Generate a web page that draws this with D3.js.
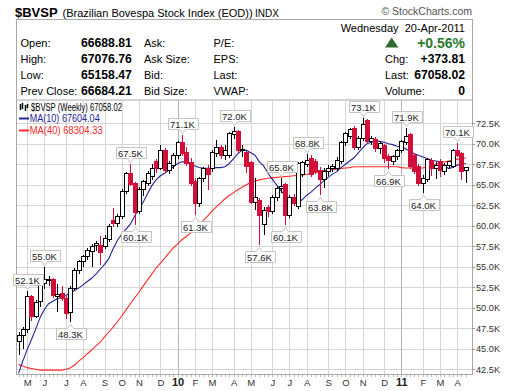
<!DOCTYPE html>
<html><head><meta charset="utf-8">
<script src="https://cdn.jsdelivr.net/npm/d3@7"></script>
<style>
body{margin:0;background:#fff}
svg{display:block}
text{font-family:"Liberation Sans",Arial,sans-serif;white-space:pre}
</style>
</head><body>
<svg id="c" width="520" height="391"></svg>
<script>
// ---- data (values in thousands) ----
const startDate = new Date(2009, 3, 20); // week of 20-Apr-2009
const opens  = [45.9,46.6,47.3,51.4,49.0,50.8,53.0,53.4,53.5,51.4,51.7,51.1,49.4,52.4,54.6,55.6,56.3,56.9,57.6,57.6,57.5,58.3,60.7,60.3,61.1,64.2,66.4,65.2,61.7,64.4,65.2,66.0,67.9,67.0,69.2,66.8,67.4,68.6,70.1,69.0,67.7,65.4,62.7,65.8,67.0,67.0,68.8,69.5,68.6,68.6,71.1,71.5,69.3,68.9,67.7,62.9,63.1,60.2,62.2,61.8,63.5,64.5,65.0,61.3,63.5,62.3,66.2,67.5,68.2,67.8,66.8,65.6,66.6,67.0,67.0,67.8,70.1,70.9,71.9,69.5,70.7,72.9,70.3,70.5,69.4,69.8,68.4,67.8,68.4,69.2,70.1,71.1,68.6,67.2,65.2,65.7,68.0,67.0,67.9,66.6,67.3,67.2,69.2,68.8,66.69];
const highs  = [47.0,47.6,52.1,51.6,51.0,53.2,55.0,53.9,53.6,52.9,52.6,51.4,52.6,54.8,55.8,56.5,57.3,57.8,58.2,58.7,58.9,60.2,62.2,61.4,64.5,66.6,67.5,65.4,64.7,65.6,66.7,67.5,68.2,69.8,69.5,67.9,68.9,70.3,71.1,69.6,68.3,65.8,66.0,67.2,67.4,69.2,70.5,69.9,69.8,71.4,72.0,71.7,69.9,69.1,67.9,65.8,63.4,62.3,62.5,63.8,64.8,65.8,65.2,63.8,63.9,67.8,67.9,68.8,68.6,68.1,67.2,67.0,67.4,67.5,68.4,70.4,71.5,71.9,72.2,70.9,73.1,73.0,71.0,70.8,70.3,70.0,68.8,68.6,69.4,70.5,71.9,71.3,68.9,67.5,66.2,68.3,68.3,67.8,68.2,67.7,67.9,69.4,70.1,69.0,67.08];
const lows   = [44.2,45.0,46.9,48.4,48.7,50.1,52.3,52.6,51.2,49.5,50.8,48.6,48.3,52.0,54.1,55.0,55.8,55.0,56.9,55.2,57.2,58.0,59.9,59.8,60.8,63.9,64.8,60.1,61.4,63.6,64.8,65.6,66.5,66.8,66.4,66.3,66.9,68.2,68.5,67.3,64.9,61.3,62.3,65.4,64.4,66.6,68.4,68.2,68.0,68.3,70.6,68.9,68.4,66.4,62.6,61.9,57.6,58.9,61.1,61.5,63.0,64.0,60.1,61.0,62.4,62.0,65.9,67.2,65.9,66.3,63.8,64.6,66.1,66.6,66.7,67.5,69.7,70.6,69.2,69.3,70.4,70.0,69.8,69.0,68.8,67.6,66.9,67.4,68.0,68.9,69.8,66.9,66.3,64.9,64.0,65.4,66.1,65.7,65.9,66.2,66.9,67.0,68.4,65.6,65.16];
const closes = [46.6,47.3,51.4,49.0,50.6,52.9,53.4,53.5,51.5,51.6,51.1,49.3,52.4,54.6,55.6,56.3,57.0,57.5,57.9,56.7,58.5,59.9,60.3,61.1,64.2,66.4,65.0,61.6,64.4,65.4,66.4,67.0,67.0,69.2,66.8,67.6,68.6,70.1,68.8,67.6,65.2,62.7,65.8,67.0,66.2,69.0,69.5,68.6,69.2,71.3,71.5,69.2,69.35,67.2,62.9,63.4,61.3,61.9,61.7,63.5,64.6,64.8,61.3,63.5,62.7,67.6,67.7,68.0,66.2,66.6,65.6,66.6,67.0,67.2,68.0,70.1,71.3,71.7,69.5,70.7,72.3,70.3,70.7,69.4,70.0,68.2,68.0,68.4,69.2,70.3,70.9,67.2,66.6,65.2,65.8,68.1,67.0,67.4,66.8,67.4,67.8,69.2,68.6,66.6,67.06];
const ma10 = [42.0,43.5,44.9,46.1,47.4,48.8,49.8,50.5,50.8,51.1,51.3,51.5,51.8,52.1,52.4,52.8,53.2,53.6,54.1,54.7,55.3,56.0,57.2,58.2,59.0,59.6,60.2,61.2,62.0,62.9,63.9,64.9,65.6,66.1,66.4,66.8,67.2,67.6,67.8,67.8,67.5,67.3,67.1,67.0,67.0,67.05,67.1,67.1,67.2,67.6,68.2,68.8,69.2,69.2,68.9,68.6,67.8,67.3,66.4,65.7,65.0,64.3,63.7,63.1,62.9,62.8,63.2,63.7,64.1,64.6,65.0,65.5,65.9,66.3,66.6,67.1,67.5,67.9,68.3,68.9,69.5,70.0,70.2,70.3,70.3,70.2,70.0,69.9,69.7,69.6,69.4,69.1,68.8,68.6,68.4,68.2,68.0,67.9,67.8,67.3,67.0,67.1,67.4,67.5,67.6];
const ma40 = [43.1,42.9,42.7,42.6,42.5,42.4,42.4,42.4,42.4,42.4,42.4,42.5,42.65,43.0,43.5,43.9,44.4,44.85,45.35,45.8,46.45,47.05,47.65,48.3,49.0,49.75,50.5,51.2,51.9,52.65,53.4,54.1,54.85,55.45,56.05,56.7,57.3,57.8,58.3,58.7,59.1,59.6,60.1,60.65,61.2,61.8,62.3,62.8,63.3,63.7,64.05,64.4,64.7,65.0,65.3,65.45,65.6,65.7,65.8,65.85,65.9,65.95,66.0,66.05,66.1,66.15,66.2,66.25,66.4,66.5,66.55,66.7,66.8,66.85,66.9,67.0,67.05,67.1,67.2,67.2,67.2,67.2,67.2,67.2,67.2,67.2,67.2,67.2,67.2,67.1,67.05,67.05,67.05,67.05,67.05,67.2,67.3,67.5,67.65,67.8,67.9,68.0,68.1,68.2,68.3];
const monthLabels = ["M","J","J","A","S","O","N","D","10","F","M","A","M","J","J","A","S","O","N","D","11","F","M","A"];
const yTicks = [42.5,45,47.5,50,52.5,55,57.5,60,62.5,65,67.5,70,72.5];
const annIdx  = [2,6,12,26,27,38,41,50,56,61,62,67,70,80,86,90,94,102];
const annText = ["52.1K","55.0K","48.3K","67.5K","60.1K","71.1K","61.3K","72.0K","57.6K","65.8K","60.1K","68.8K","63.8K","73.1K","66.9K","71.9K","64.0K","70.1K"];
const annSide = ["H","H","L","H","L","H","L","H","L","H","L","H","L","H","L","H","L","H"];

// ---- layout ----
const svg = d3.select("#c");
const L = 16, R = 472, T = 100, B = 374;
const x = d3.scaleLinear().domain([0, opens.length - 1]).range([18.5, 465.8]);
const y = d3.scaleLinear().domain([42.5, 72.5]).range([369.3, 123.3]);
const weekDate = i => new Date(startDate.getFullYear(), startDate.getMonth(), startDate.getDate() + 7 * i);
const monthIdx = d3.range(1, opens.length).filter(i => weekDate(i).getMonth() !== weekDate(i - 1).getMonth());

// ---- header ----
svg.append("text").attr("x", 15).attr("y", 16.5).attr("font-size", 13).attr("font-weight", "bold").text("$BVSP");
svg.append("text").attr("x", 62.5).attr("y", 16.5).attr("font-size", 11).text("(Brazilian Bovespa Stock Index (EOD))");
svg.append("text").attr("x", 255).attr("y", 16.5).attr("font-size", 10).text("INDX");
svg.append("text").attr("x", 472).attr("y", 15).attr("font-size", 10.5).attr("fill", "#555")
  .attr("text-anchor", "end").text("\u00A9 StockCharts.com");

svg.append("rect").attr("x", L + 0.5).attr("y", 19.5).attr("width", R - L).attr("height", T - 19.5)
  .attr("fill", "none").attr("stroke", "#a8a8a8");

const rows = [46.8, 62.8, 78.8, 94.5];
const c1 = ["Open:", "High:", "Low:", "Prev Close:"];
const v1 = ["66688.81", "67076.76", "65158.47", "66684.21"];
const c2 = ["Ask:", "Ask Size:", "Bid:", "Bid Size:"];
const c3 = ["P/E:", "EPS:", "Last:", "VWAP:"];
rows.forEach((ry, k) => {
  svg.append("text").attr("x", 20.5).attr("y", ry).attr("font-size", 11).text(c1[k]);
  svg.append("text").attr("x", 81).attr("y", ry).attr("font-size", 12.2).attr("font-weight", "bold").text(v1[k]);
  svg.append("text").attr("x", 144).attr("y", ry).attr("font-size", 11).text(c2[k]);
  svg.append("text").attr("x", 213.5).attr("y", ry).attr("font-size", 11).text(c3[k]);
});
svg.append("text").attr("x", 465).attr("y", 31.6).attr("font-size", 11).attr("text-anchor", "end").text("Wednesday  20-Apr-2011");
svg.append("path").attr("d", "M385,47.5 L391.7,37.5 L398.4,47.5 Z").attr("fill", "#2f6b2f");
svg.append("text").attr("x", 465).attr("y", 47.8).attr("font-size", 14).attr("font-weight", "bold")
  .attr("fill", "#2f7a33").attr("text-anchor", "end").text("+0.56%");
const rl = ["Chg:", "Last:", "Volume:"], rv = ["+373.81", "67058.02", "0"];
[62.8, 78.8, 94.5].forEach((ry, k) => {
  svg.append("text").attr("x", 385).attr("y", ry).attr("font-size", 11).text(rl[k]);
  svg.append("text").attr("x", 465).attr("y", ry).attr("font-size", 12.2).attr("font-weight", "bold")
    .attr("text-anchor", "end").text(rv[k]);
});

// ---- grid ----
const grid = svg.append("g");
yTicks.forEach(v => {
  grid.append("line").attr("x1", L).attr("x2", R).attr("y1", Math.round(y(v)) + 0.5).attr("y2", Math.round(y(v)) + 0.5)
    .attr("stroke", "#d6d6d6");
});
monthIdx.forEach((i, k) => {
  const yr = weekDate(i).getMonth() === 0;
  grid.append("line").attr("x1", Math.round(x(i)) + 0.5).attr("x2", Math.round(x(i)) + 0.5).attr("y1", T).attr("y2", B)
    .attr("stroke", yr ? "#b4b4b4" : "#d6d6d6");
});

// frame
svg.append("line").attr("x1", L + 0.5).attr("x2", L + 0.5).attr("y1", T).attr("y2", B + 1).attr("stroke", "#a8a8a8");
svg.append("line").attr("x1", R + 0.5).attr("x2", R + 0.5).attr("y1", T).attr("y2", B + 1).attr("stroke", "#a8a8a8");
svg.append("line").attr("x1", L).attr("x2", R + 1).attr("y1", B + 0.5).attr("y2", B + 0.5).attr("stroke", "#a8a8a8");

// axis labels
yTicks.forEach(v => {
  svg.append("text").attr("x", 476).attr("y", y(v)).attr("dy", "0.35em").attr("font-size", 9.2).attr("fill", "#333")
    .text(d3.format(".1f")(v) + "K");
  svg.append("line").attr("x1", R).attr("x2", R + 3).attr("y1", Math.round(y(v)) + 0.5).attr("y2", Math.round(y(v)) + 0.5)
    .attr("stroke", "#999");
});
d3.range(opens.length).forEach(i => {
  svg.append("line").attr("x1", Math.round(x(i)) + 0.5).attr("x2", Math.round(x(i)) + 0.5).attr("y1", B + 1).attr("y2", B + 3)
    .attr("stroke", "#bbb");
});
monthIdx.forEach((i, k) => {
  const lab = monthLabels[k];
  const yr = /\d/.test(lab);
  svg.append("text").attr("x", x(i) + 0.5).attr("y", 386).attr("text-anchor", "middle")
    .attr("font-size", yr ? 11 : 9.5).attr("font-weight", yr ? "bold" : "normal").attr("fill", yr ? "#222" : "#333").text(lab);
});

// ---- plot ----
svg.append("clipPath").attr("id", "clip").append("rect").attr("x", L + 1).attr("y", T + 1).attr("width", R - L - 1).attr("height", B - T - 1);
const plot = svg.append("g").attr("clip-path", "url(#clip)");

const line = d3.line().x((d, i) => x(i)).y(d => y(d));
plot.append("path").datum(ma40).attr("d", line).attr("fill", "none").attr("stroke", "#ff2a2a").attr("stroke-width", 1.1);
plot.append("path").datum(ma10).attr("d", line).attr("fill", "none").attr("stroke", "#23239a").attr("stroke-width", 1.1);

const red = "#d0103a";
const cg = plot.append("g").attr("shape-rendering", "crispEdges");
d3.range(opens.length).forEach(i => {
  const cx = Math.round(x(i));
  const up = closes[i] >= opens[i];
  const col = up ? "#000" : red;
  cg.append("line").attr("x1", cx + 0.5).attr("x2", cx + 0.5).attr("y1", y(highs[i])).attr("y2", y(lows[i]))
    .attr("stroke", col);
  const top = y(Math.max(opens[i], closes[i])), bot = y(Math.min(opens[i], closes[i]));
  const h = Math.max(1, bot - top);
  cg.append("rect").attr("x", cx - 1.5).attr("y", top).attr("width", 4).attr("height", h)
    .attr("fill", up ? "#fff" : red).attr("stroke", col);
});

// annotations
const ag = svg.append("g");
annIdx.forEach((i, k) => {
  const cx = Math.round(x(i)) + 0.5;
  const t = ag.append("text").attr("font-size", 9.5).attr("fill", "#222").attr("text-anchor", "middle").text(annText[k]);
  const w = t.node().getComputedTextLength() + 5;
  const l = Math.round(cx - w / 2) + 0.5, r = l + Math.round(w);
  let top, bot, d;
  if (annSide[k] === "H") {
    bot = Math.round(y(highs[i]) - 6) + 0.5; top = bot - 11;
    d = `M${l},${top}H${r}V${bot}H${cx + 3}L${cx},${bot + 4}L${cx - 3},${bot}H${l}Z`;
  } else {
    top = Math.round(y(lows[i]) + 6) + 0.5; bot = top + 11;
    d = `M${l},${top}H${cx - 3}L${cx},${top - 4}L${cx + 3},${top}H${r}V${bot}H${l}Z`;
  }
  ag.insert("path", "text").attr("d", d).attr("fill", "#fff").attr("stroke", "#c4c4c4");
  t.attr("x", cx).attr("y", top + 9);
});

// legend
const lg = svg.append("g");
[[20, 104, 110], [22, 103, 109], [25, 105, 111], [27, 104, 108]].forEach(([lx, a, b]) => {
  lg.append("line").attr("x1", lx + 0.5).attr("x2", lx + 0.5).attr("y1", a).attr("y2", b).attr("stroke", "#000").attr("stroke-width", 1.5);
});
lg.append("text").attr("x", 31).attr("y", 111).attr("font-size", 10).attr("textLength", 91).attr("lengthAdjust", "spacingAndGlyphs")
  .text("$BVSP (Weekly) 67058.02");
lg.append("line").attr("x1", 19).attr("x2", 29).attr("y1", 118.5).attr("y2", 118.5).attr("stroke", "#23239a").attr("stroke-width", 2);
lg.append("text").attr("x", 29.7).attr("y", 122).attr("font-size", 10).attr("fill", "#23239a").attr("textLength", 70).attr("lengthAdjust", "spacingAndGlyphs")
  .text("MA(10) 67604.04");
lg.append("line").attr("x1", 19).attr("x2", 29).attr("y1", 130.5).attr("y2", 130.5).attr("stroke", "#ff2a2a").attr("stroke-width", 2);
lg.append("text").attr("x", 29.7).attr("y", 134).attr("font-size", 10).attr("fill", "#ff2a2a").attr("textLength", 73).attr("lengthAdjust", "spacingAndGlyphs")
  .text("MA(40) 68304.33");
</script>
</body></html>
